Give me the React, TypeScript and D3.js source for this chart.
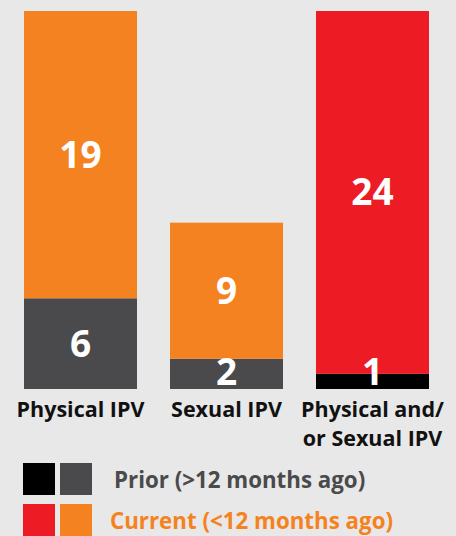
import React, { useEffect, useRef } from 'react';
import * as d3 from 'd3';

const categories = ['Physical IPV', 'Sexual IPV', 'Physical and/\nor Sexual IPV'];
const priorValues = [6, 2, 1];
const currentValues = [19, 9, 24];
const priorColors = ['#4a4a4c', '#4a4a4c', '#000000'];
const currentColors = ['#f58220', '#f58220', '#ed1c24'];
const legendLabels = ['Prior (>12 months ago)', 'Current (<12 months ago)'];

const FONT = '"Open Sans", sans-serif';

const App = () => {
  const ref = useRef<SVGSVGElement>(null);

  useEffect(() => {
    if (!ref.current) return;
    const svg = d3.select(ref.current);
    svg.selectAll('*').remove();

    const width = 456;
    const height = 536;

    svg.append('rect').attr('width', width).attr('height', height).attr('fill', '#e8e8e8');

    const x = d3.scaleBand<string>()
      .domain(categories)
      .range([24, 429])
      .paddingInner(0.226)
      .paddingOuter(0);

    const y = d3.scaleLinear()
      .domain([0, 25])
      .range([389, 11]);

    const rows = categories.map((c, i) => ({
      cat: c,
      prior: priorValues[i],
      current: currentValues[i],
      priorColor: priorColors[i],
      currentColor: currentColors[i],
    }));

    const segments = rows.flatMap(d => [
      { cat: d.cat, y0: 0, y1: d.prior, v: d.prior, color: d.priorColor },
      { cat: d.cat, y0: d.prior, y1: d.prior + d.current, v: d.current, color: d.currentColor },
    ]);

    const barLayer = svg.append('g');
    const labelLayer = svg.append('g');

    barLayer.selectAll('rect')
      .data(segments)
      .join('rect')
      .attr('x', d => x(d.cat)!)
      .attr('y', d => y(d.y1))
      .attr('width', x.bandwidth())
      .attr('height', d => y(d.y0) - y(d.y1))
      .attr('fill', d => d.color);

    // value labels: centred in the segment, or sitting on its bottom when it is thin
    labelLayer.selectAll('text.value')
      .data(segments)
      .join('text')
      .attr('class', 'value')
      .attr('x', d => x(d.cat)! + x.bandwidth() / 2)
      .attr('y', d => {
        const top = y(d.y1);
        const bottom = y(d.y0);
        return bottom - top < 34 ? bottom - 4 : (top + bottom) / 2 + 13;
      })
      .attr('text-anchor', 'middle')
      .attr('fill', '#ffffff')
      .attr('font-family', FONT)
      .attr('font-weight', 700)
      .attr('font-size', 37)
      .text(d => d.v);

    // category labels
    rows.forEach(d => {
      const t = labelLayer.append('text')
        .attr('text-anchor', 'middle')
        .attr('font-family', FONT)
        .attr('font-weight', 700)
        .attr('font-size', 21.5)
        .attr('fill', '#111111');
      d.cat.split('\n').forEach((ln, j) => {
        t.append('tspan')
          .attr('x', x(d.cat)! + x.bandwidth() / 2)
          .attr('y', 417 + j * 29)
          .text(ln);
      });
    });

    // legend
    const legend = svg.append('g');
    const legendRows = [
      { label: legendLabels[0], colors: [priorColors[2], priorColors[0]], textColor: '#4a4a4c', y: 463, tx: 114 },
      { label: legendLabels[1], colors: [currentColors[2], currentColors[0]], textColor: '#f58220', y: 504, tx: 110 },
    ];
    legendRows.forEach(r => {
      r.colors.forEach((c, k) => {
        legend.append('rect')
          .attr('x', 23 + k * 37)
          .attr('y', r.y)
          .attr('width', 32)
          .attr('height', 32)
          .attr('fill', c);
      });
      legend.append('text')
        .attr('x', r.tx)
        .attr('y', r.y + 25)
        .attr('font-family', FONT)
        .attr('font-weight', 700)
        .attr('font-size', 22.3)
        .attr('fill', r.textColor)
        .text(r.label);
    });
  }, []);

  return (
    <svg
      ref={ref}
      width={456}
      height={536}
      style={{ position: 'absolute', left: 0, top: 0, display: 'block' }}
    />
  );
};

export default App;
